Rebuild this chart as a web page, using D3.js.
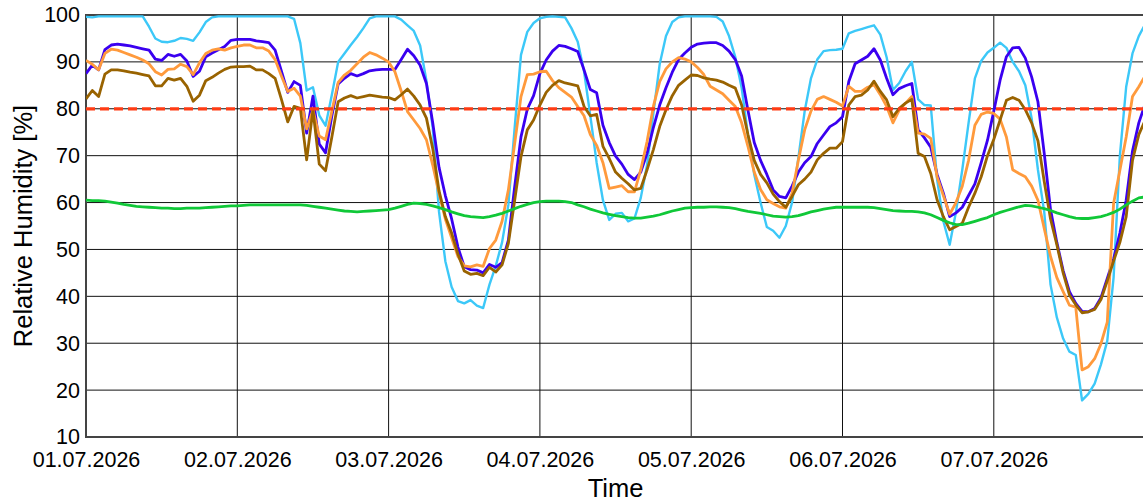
<!DOCTYPE html>
<html><head><meta charset="utf-8">
<script src="https://cdn.jsdelivr.net/npm/d3@7"></script>
<style>
body{margin:0;background:#fff}
svg{display:block}
text{font-family:"Liberation Sans",Arial,sans-serif;fill:#000}
</style>
</head><body>
<svg id="chart" width="1143" height="501"></svg>
<script>
// ---- data (hourly, starting 01.07.2026 00:00) ----
const dayLabels = ["01.07.2026","02.07.2026","03.07.2026","04.07.2026","05.07.2026","06.07.2026","07.07.2026"];
const yTicks = [10,20,30,40,50,60,70,80,90,100];
const threshold = 80;

const lightBlue = [
 99.6,99.5,99.7,99.7,99.7,99.7,99.7,99.7,99.7,99.7,97.5,95.0,94.3,94.2,94.5,95.1,94.9,94.5,96.3,98.5,99.5,99.7,99.7,99.7,
 99.7,99.7,99.7,99.7,99.7,99.7,99.7,99.7,99.7,99.2,94.0,83.9,84.6,78.6,76.4,83.0,90.0,91.8,93.6,95.3,97.2,99.3,99.7,99.7,
 99.7,99.7,99.0,97.8,96.6,93.5,86.0,76.0,58.0,47.5,42.0,39.0,38.5,39.2,38.0,37.5,42.5,46.5,51.5,59.5,76.0,91.5,96.4,98.3,
 99.3,99.6,99.7,99.6,99.5,97.2,94.3,88.0,78.5,68.5,60.5,56.3,57.6,57.8,56.0,56.6,61.0,68.0,79.0,89.5,95.5,98.5,99.5,99.7,
 99.7,99.7,99.7,99.7,99.6,98.6,95.5,91.0,84.5,74.5,66.0,60.0,54.8,54.0,52.5,55.0,60.0,69.5,79.5,86.5,90.5,92.3,92.5,92.6,
 92.8,96.1,96.6,97.0,97.4,97.8,95.8,91.0,84.0,85.5,88.0,90.0,82.0,80.8,80.7,65.0,56.0,51.0,58.0,67.0,77.0,86.5,90.2,92.0,
 93.0,94.1,93.0,90.0,88.0,85.0,78.0,67.0,58.0,42.5,35.5,31.0,28.2,27.5,17.8,19.2,21.4,25.5,30.5,44.0,70.0,84.7,91.8,95.5,
 98.0];

const blue = [
 87.5,89.3,88.3,92.6,93.6,93.8,93.6,93.4,93.1,92.8,92.5,90.6,90.3,91.6,91.2,91.6,90.2,86.9,88.0,91.1,91.9,92.6,93.3,94.6,
 94.8,94.8,94.8,94.5,94.3,94.1,92.5,88.0,83.5,85.8,85.0,74.8,82.7,72.5,70.6,78.5,85.3,86.5,87.5,87.0,87.5,88.1,88.3,88.4,
 88.4,88.4,90.5,92.7,91.3,89.3,85.4,77.0,67.5,61.5,56.5,50.5,46.3,45.7,45.6,45.0,46.8,46.2,47.2,52.0,63.4,74.0,79.9,82.8,
 87.5,90.4,92.3,93.5,93.3,92.8,92.2,88.3,84.1,83.4,76.5,72.8,69.9,68.2,66.0,64.9,66.5,70.5,76.0,80.8,84.5,87.8,90.5,91.9,
 93.1,93.8,94.0,94.1,94.1,93.5,92.3,90.5,87.0,79.7,72.8,69.0,66.0,62.7,61.3,61.0,63.5,66.5,68.5,69.8,72.6,74.4,76.2,77.0,
 78.3,85.8,89.6,90.4,91.2,92.8,90.4,86.5,83.0,84.3,84.9,85.4,75.5,73.8,71.8,66.0,62.0,57.0,57.8,59.0,61.5,64.0,68.5,73.3,
 79.5,86.1,91.1,93.0,93.1,90.8,86.8,81.5,70.5,58.5,51.5,45.5,41.0,38.5,36.8,36.7,37.4,39.7,43.8,48.0,53.5,60.5,71.0,77.0,
 81.0];

const orange = [
 90.3,89.5,88.3,91.8,92.7,92.5,92.0,91.5,91.0,90.4,89.6,87.9,87.2,88.4,88.5,89.5,89.0,87.3,89.8,91.8,92.5,92.8,92.5,93.0,
 93.3,93.6,93.6,93.0,93.0,92.3,90.5,87.0,83.7,84.4,82.7,75.7,79.7,74.2,73.4,79.5,85.6,87.2,88.2,89.6,91.0,92.0,91.5,90.8,
 90.0,87.9,83.8,79.4,77.6,75.8,73.4,68.0,62.0,56.5,52.5,48.5,46.5,46.3,46.7,46.4,50.2,52.0,56.0,62.7,72.6,82.6,87.3,87.4,
 87.9,88.0,86.0,84.5,83.5,82.5,80.5,78.5,74.5,72.2,68.5,63.0,63.3,63.6,62.3,62.3,67.0,73.0,80.5,85.8,88.5,90.0,90.9,90.6,
 90.0,88.8,87.3,84.8,84.0,83.2,81.8,80.5,77.0,72.0,66.5,62.8,60.6,59.8,59.1,58.8,62.0,69.0,75.5,79.5,82.0,82.6,82.0,81.4,
 80.6,84.8,83.7,83.7,84.6,85.1,83.0,80.5,77.0,79.7,81.2,82.6,74.8,74.6,73.7,65.5,61.5,57.5,60.0,63.5,69.0,76.5,78.8,79.3,
 79.0,77.8,74.0,67.0,66.2,65.5,63.5,60.5,54.5,48.5,44.0,41.0,38.1,37.7,24.3,25.0,26.7,29.9,34.5,59.8,66.9,74.0,82.6,84.7,
 87.0];

const brown = [
 82.1,83.9,82.6,87.4,88.3,88.3,88.1,87.8,87.6,87.3,87.0,84.9,84.9,86.5,86.1,86.5,84.8,81.6,82.9,86.0,86.7,87.6,88.4,88.9,
 89.0,89.0,89.1,88.3,88.3,87.5,86.5,82.0,77.2,80.5,80.1,69.1,79.7,68.2,66.8,74.0,81.5,82.3,82.8,82.3,82.6,82.9,82.7,82.5,
 82.4,81.9,83.0,84.2,82.7,80.8,78.0,71.5,62.5,57.0,53.5,49.0,45.4,44.7,44.9,44.4,46.2,45.2,46.7,51.3,60.5,69.8,75.5,77.6,
 80.8,83.5,85.0,86.0,85.5,85.2,84.9,80.5,78.5,78.8,72.0,69.4,66.5,65.2,64.0,62.7,63.0,67.0,71.3,76.2,79.8,82.8,85.0,86.1,
 87.2,87.1,86.6,86.3,86.1,85.7,85.0,84.4,80.8,74.5,69.0,66.0,64.2,61.8,60.2,59.0,61.3,63.8,65.0,66.5,69.1,70.5,71.6,71.6,
 73.0,80.8,82.6,82.9,84.0,85.9,83.7,81.9,78.3,80.1,81.2,82.0,70.5,69.8,66.2,60.6,57.0,54.2,54.9,55.6,59.0,62.0,65.5,70.0,
 73.5,77.6,81.8,82.4,81.8,79.8,77.0,73.2,64.5,56.5,51.0,45.0,40.3,38.2,36.5,36.7,37.2,39.3,43.3,47.5,51.5,57.0,69.0,74.5,
 77.5];

const green = [
 60.5,60.4,60.4,60.3,60.1,59.9,59.6,59.4,59.2,59.1,59.0,58.9,58.8,58.8,58.7,58.7,58.8,58.8,58.8,58.9,59.0,59.1,59.2,59.3,
 59.3,59.4,59.5,59.5,59.5,59.5,59.5,59.5,59.5,59.5,59.5,59.4,59.2,59.0,58.8,58.6,58.4,58.2,58.1,58.0,58.1,58.2,58.3,58.4,
 58.5,58.8,59.2,59.6,59.9,59.8,59.6,59.3,58.9,58.5,58.0,57.6,57.2,57.0,56.9,56.8,57.0,57.3,57.7,58.2,58.7,59.2,59.6,60.0,
 60.2,60.3,60.3,60.3,60.2,60.0,59.5,59.1,58.6,58.2,57.8,57.5,57.2,57.0,56.8,56.7,56.7,56.9,57.1,57.4,57.8,58.2,58.5,58.8,
 58.9,59.0,59.0,59.1,59.1,59.0,58.9,58.7,58.4,58.1,57.9,57.7,57.4,57.1,57.0,56.9,57.0,57.2,57.6,58.0,58.3,58.6,58.8,59.0,
 59.0,59.0,59.0,59.0,59.0,58.9,58.7,58.5,58.3,58.2,58.1,58.1,58.0,57.8,57.4,56.8,56.2,55.7,55.3,55.3,55.6,56.0,56.4,56.8,
 57.4,57.9,58.3,58.7,59.1,59.4,59.3,59.0,58.7,58.3,57.8,57.4,57.0,56.7,56.6,56.6,56.8,57.0,57.4,57.9,58.6,59.5,60.3,61.0,
 61.2];

// ---- layout ----
const svg = d3.select("#chart");
const L = 86, T = 15, B = 437, R = 1145.1;
const start = new Date(Date.UTC(2026, 6, 1));
const end = new Date(Date.UTC(2026, 6, 8));
const HOUR = 3600000;
const tAt = i => new Date(start.getTime() + i * HOUR);
const parseDay = d3.utcParse("%d.%m.%Y");
const fmtDay = d3.utcFormat("%d.%m.%Y");

const x = d3.scaleUtc().domain([start, end]).range([L, R]);
const y = d3.scaleLinear().domain([10, 100]).range([B, T]);

// gridlines
const grid = svg.append("g");
grid.selectAll("line.h").data(yTicks.filter(v => v > 10 && v < 100)).join("line")
  .attr("x1", L).attr("x2", R).attr("y1", d => y(d)).attr("y2", d => y(d))
  .attr("stroke", "#111").attr("stroke-width", 1);
grid.selectAll("line.v").data(dayLabels.slice(1).map(parseDay)).join("line")
  .attr("x1", d => x(d)).attr("x2", d => x(d)).attr("y1", T).attr("y2", B)
  .attr("stroke", "#111").attr("stroke-width", 1);

// frame
svg.append("path")
  .attr("d", `M${R},${T}H${L}V${B}H${R}`)
  .attr("fill", "none").attr("stroke", "#444").attr("stroke-width", 2);

// clip
svg.append("clipPath").attr("id", "plot").append("rect")
  .attr("x", L).attr("y", T - 3).attr("width", R - L).attr("height", B - T + 3);

const line = d3.line().x((d, i) => x(tAt(i))).y(d => y(d));
const series = [
  {data: lightBlue, color: "#3cc8f8", w: 2.4},
  {data: blue, color: "#3a00f0", w: 2.8},
  {data: orange, color: "#ff9a3c", w: 2.8},
  {data: brown, color: "#996300", w: 2.8},
  {data: green, color: "#10c838", w: 2.8}
];
const lines = svg.append("g").attr("clip-path", "url(#plot)");
lines.selectAll("path.s").data(series).join("path")
  .attr("fill", "none").attr("stroke", d => d.color).attr("stroke-width", d => d.w)
  .attr("stroke-linejoin", "round")
  .attr("d", d => line(d.data));
lines.append("line")
  .attr("x1", L).attr("x2", R).attr("y1", y(threshold)).attr("y2", y(threshold))
  .attr("stroke", "#ff3c14").attr("stroke-width", 3.2).attr("stroke-dasharray", "9,5");

// axes
const yAxis = svg.append("g").attr("transform", `translate(${L},0)`)
  .call(d3.axisLeft(y).tickValues(yTicks).tickSize(0).tickPadding(6));
const xAxis = svg.append("g").attr("transform", `translate(0,${B})`)
  .call(d3.axisBottom(x).tickValues(dayLabels.map(parseDay)).tickFormat(fmtDay).tickSize(0).tickPadding(15));
[yAxis, xAxis].forEach(a => {
  a.select(".domain").remove();
  a.selectAll("text").style("font-size", "21.5px").attr("fill", "#000");
});

// axis titles
svg.append("text").attr("x", (L + R) / 2).attr("y", 496.5).attr("text-anchor", "middle")
  .style("font-size", "25.5px").text("Time");
svg.append("text").attr("transform", `translate(31.5,${(T + B) / 2}) rotate(-90)`)
  .attr("text-anchor", "middle").style("font-size", "25.5px").text("Relative Humidity [%]");
</script>
</body></html>
